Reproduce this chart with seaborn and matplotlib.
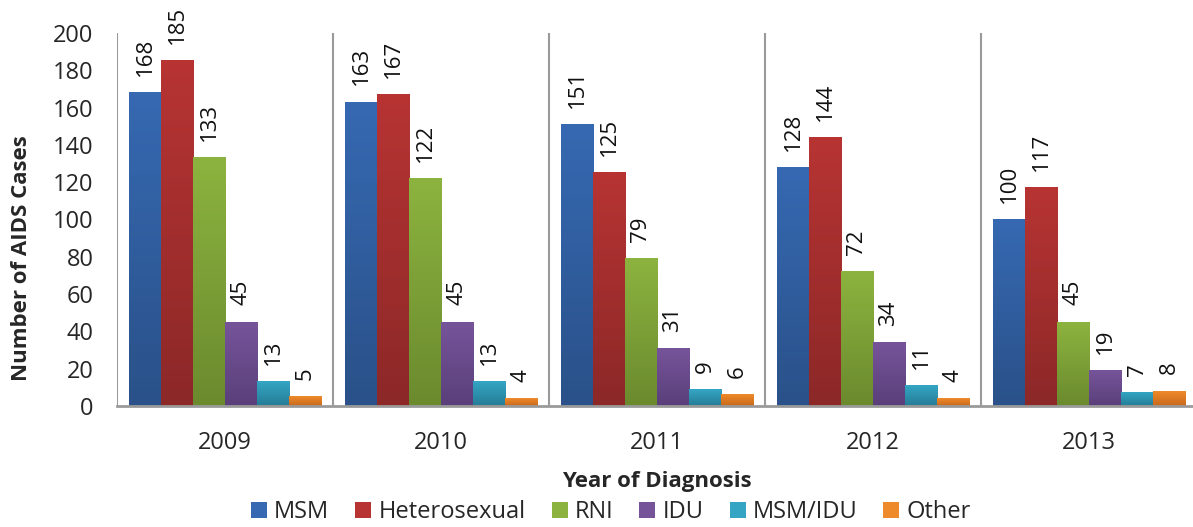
import numpy as np
import pandas as pd
import matplotlib.pyplot as plt
import seaborn as sns
from matplotlib.colors import LinearSegmentedColormap
from matplotlib.patches import Patch

# data
years = ["2009", "2010", "2011", "2012", "2013"]
groups = ["MSM", "Heterosexual", "RNI", "IDU", "MSM/IDU", "Other"]
msm = [168, 163, 151, 128, 100]
hetero = [185, 167, 125, 144, 117]
rni = [133, 122, 79, 72, 45]
idu = [45, 45, 31, 34, 19]
msm_idu = [13, 13, 9, 11, 7]
other = [5, 4, 6, 4, 8]

# (top colour, bottom colour) for the excel-style gradient
top_cols = ["#3669b2", "#b73433", "#8cb33f", "#76549a", "#34a6c4", "#ef8a2a"]
bot_cols = ["#2a5189", "#8c2828", "#6b8a2e", "#5a3f7a", "#267c96", "#c8691c"]

rows = []
for g, vals in zip(groups, [msm, hetero, rni, idu, msm_idu, other]):
    for y, v in zip(years, vals):
        rows.append({"Year": y, "Group": g, "Cases": v})
df = pd.DataFrame(rows)

sns.set_style("white")
plt.rcParams["font.family"] = ["Open Sans", "DejaVu Sans"]

W, H = 1193, 527
fig = plt.figure(figsize=(W / 100, H / 100), dpi=100)
ax = fig.add_axes([117 / W, 1 - 406 / H, (1197 - 117) / W, (406 - 33) / H])

sns.barplot(data=df, x="Year", y="Cases", hue="Group", order=years,
            hue_order=groups, palette=top_cols, width=0.889, gap=0,
            ax=ax, legend=False, saturation=1)

# replace flat fills with vertical gradients
for cont, c1, c2 in zip(ax.containers, top_cols, bot_cols):
    cmap = LinearSegmentedColormap.from_list("g", [c2, c1])
    grad = np.linspace(0, 1, 100).reshape(-1, 1)
    for p in cont:
        x0, y0 = p.get_x(), p.get_y()
        w, h = p.get_width(), p.get_height()
        p.set_facecolor("none")
        p.set_edgecolor("none")
        ax.imshow(grad, cmap=cmap, extent=(x0, x0 + w, y0, y0 + h),
                  origin="lower", aspect="auto", zorder=2)
    ax.bar_label(cont, rotation=90, padding=12, fontsize=16, color="#111111")

ax.set_xlim(-0.5, 4.5)
ax.set_ylim(0, 200)
ax.set_yticks(range(0, 201, 20))
ax.tick_params(axis="y", labelsize=17, length=0, pad=17)
ax.tick_params(axis="x", labelsize=17, length=0, pad=18)
ax.set_xlabel("")
ax.set_ylabel("")

for s in ["top", "right", "left"]:
    ax.spines[s].set_visible(False)
ax.spines["bottom"].set_color("#9a9a9a")
ax.spines["bottom"].set_linewidth(2)

# group separators
for xs in np.arange(-0.5, 5.0, 1.0):
    ax.axvline(xs, color="#9a9a9a", lw=1.5, zorder=1)

fig.text(22 / W, 1 - 258 / H, "Number of AIDS Cases", rotation=90,
         ha="center", va="center", fontsize=16, fontweight="bold")
fig.text(657 / W, 1 - 481 / H, "Year of Diagnosis", ha="center",
         va="center", fontsize=16, fontweight="bold")

handles = [Patch(facecolor=c, edgecolor="none") for c in top_cols]
fig.legend(handles, groups, loc="center", bbox_to_anchor=(611 / W, 1 - 512 / H),
           ncol=6, frameon=False, fontsize=17, handlelength=0.68,
           handleheight=0.68, handletextpad=0.3, columnspacing=1.1,
           borderpad=0, borderaxespad=0)

fig.savefig("out.png", dpi=100)
